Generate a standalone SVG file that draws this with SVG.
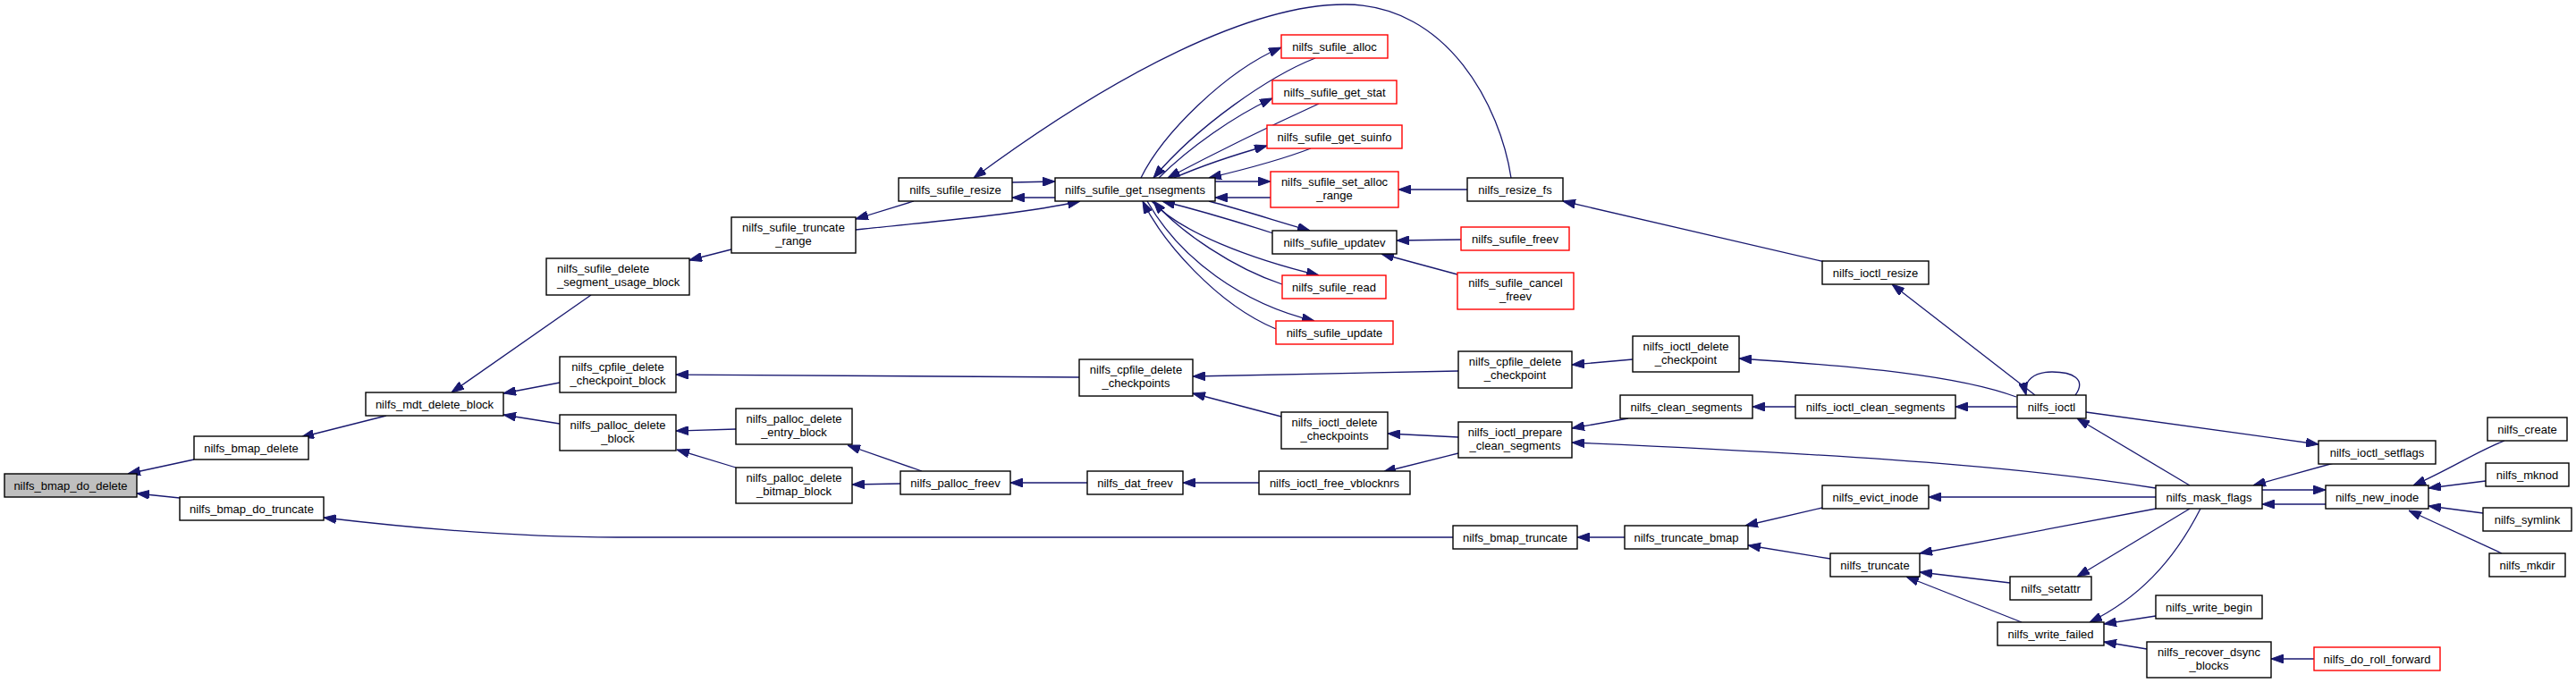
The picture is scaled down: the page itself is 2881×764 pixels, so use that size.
<svg xmlns="http://www.w3.org/2000/svg" width="2881" height="764" viewBox="0 0 2881 764">
<defs>
<style>
.node rect{fill:#ffffff;stroke:#000000;stroke-width:1.4}
.red rect{stroke:#ff0000}
.root rect{fill:#bfbfbf}
.node text{font-family:"Liberation Sans",Arial,Helvetica,sans-serif;font-size:13px;fill:#000000;text-anchor:middle}
.node text.l{text-anchor:start}
#edges path{fill:none;stroke:#191970;stroke-width:1.3;marker-end:url(#ah)}
</style>
<marker id="ah" viewBox="0 0 14 10" refX="14" refY="5" markerWidth="14" markerHeight="10" markerUnits="userSpaceOnUse" orient="auto">
<path d="M0,0 L14,5 L0,10 z" fill="#191970" stroke="#191970" stroke-width="1"/>
</marker>
</defs>
<rect x="0" y="0" width="2881" height="764" fill="#ffffff"/>
<g id="edges">
<path d="M217,514 L143,530"/>
<path d="M201,557 L153,552"/>
<path d="M432,465 L337,489"/>
<path d="M1625,601 L690,601 C600,601 480,593 362,579"/>
<path d="M661,330 L505,439"/>
<path d="M626,428 L563,440"/>
<path d="M626,474 L563,464"/>
<path d="M818,279 L771,291"/>
<path d="M1022,225 L957,245"/>
<path d="M957,257 C1050,247 1140,240 1208,225"/>
<path d="M1132,204 L1180,203"/>
<path d="M1180,221 L1132,221"/>
<path d="M1690,199 C1678,120 1620,5 1504,5 C1400,5 1250,80 1089,199"/>
<path d="M1276,199 C1300,150 1370,80 1433,53"/>
<path d="M1471,65 C1420,85 1340,140 1290,199"/>
<path d="M1296,199 C1330,165 1380,130 1423,110"/>
<path d="M1475,116 C1440,132 1380,160 1306,199"/>
<path d="M1313,199 C1345,185 1385,172 1417,163"/>
<path d="M1466,166 C1430,180 1390,190 1352,199"/>
<path d="M1359,203 L1421,203"/>
<path d="M1421,221 L1359,221"/>
<path d="M1352,225 C1390,235 1430,248 1465,258"/>
<path d="M1424,261 C1390,250 1340,235 1300,225"/>
<path d="M1288,225 C1320,260 1400,290 1475,308"/>
<path d="M1434,318 C1380,300 1320,260 1290,225"/>
<path d="M1283,225 C1320,290 1390,340 1470,359"/>
<path d="M1427,368 C1360,340 1300,270 1278,225"/>
<path d="M1641,212 L1564,212"/>
<path d="M1634,268 L1562,269"/>
<path d="M1630,307 L1545,284"/>
<path d="M2041,293 L1748,225"/>
<path d="M2276,442 L2116,318"/>
<path d="M2321,442 C2334,424 2318,416 2295,416 C2275,416 2262,426 2266,442"/>
<path d="M2255,444 C2190,420 2080,410 1945,401"/>
<path d="M1826,402 L1758,408"/>
<path d="M1631,415 L1334,421"/>
<path d="M1433,466 L1334,440"/>
<path d="M1207,422 L756,419"/>
<path d="M823,480 L756,482"/>
<path d="M823,523 L757,503"/>
<path d="M1031,527 L948,498"/>
<path d="M1007,541 L953,542"/>
<path d="M1216,540 L1130,540"/>
<path d="M1408,540 L1323,540"/>
<path d="M1631,489 L1552,485"/>
<path d="M1631,507 L1547,528"/>
<path d="M1821,468 L1758,479"/>
<path d="M2411,546 C2300,528 2150,512 1758,495"/>
<path d="M2008,455 L1960,455"/>
<path d="M2256,455 L2187,455"/>
<path d="M2333,461 L2593,497"/>
<path d="M2449,543 L2323,468"/>
<path d="M2411,556 L2157,556"/>
<path d="M2411,569 L2147,619"/>
<path d="M2449,569 L2323,645"/>
<path d="M2461,569 C2430,630 2390,670 2337,696"/>
<path d="M2248,652 L2147,640"/>
<path d="M2261,696 L2132,645"/>
<path d="M2411,689 L2353,698"/>
<path d="M2401,726 L2353,718"/>
<path d="M2588,737 L2540,737"/>
<path d="M2610,518 L2520,543"/>
<path d="M2530,548 L2601,548"/>
<path d="M2601,564 L2530,564"/>
<path d="M2801,493 C2770,505 2740,525 2699,543"/>
<path d="M2780,538 L2716,546"/>
<path d="M2777,574 L2716,566"/>
<path d="M2798,619 L2694,571"/>
<path d="M2038,568 L1952,588"/>
<path d="M2047,625 L1955,610"/>
<path d="M1817,601 L1764,601"/>
</g>
<g id="n1" class="node root"><rect x="5" y="530" width="148" height="26"/><text x="79" y="547.5">nilfs_bmap_do_delete</text></g>
<g id="n2" class="node"><rect x="217" y="488" width="128" height="26"/><text x="281" y="505.5">nilfs_bmap_delete</text></g>
<g id="n3" class="node"><rect x="201" y="556" width="161" height="26"/><text x="281.5" y="573.5">nilfs_bmap_do_truncate</text></g>
<g id="n4" class="node"><rect x="409" y="439" width="154" height="26"/><text x="486" y="456.5">nilfs_mdt_delete_block</text></g>
<g id="n5" class="node"><rect x="611" y="289" width="160" height="41"/><text class="l" x="623" y="305">nilfs_sufile_delete</text><text class="l" x="623" y="320">_segment_usage_block</text></g>
<g id="n6" class="node"><rect x="626" y="399" width="130" height="40"/><text x="691" y="415">nilfs_cpfile_delete</text><text x="691" y="430">_checkpoint_block</text></g>
<g id="n7" class="node"><rect x="626" y="464" width="130" height="40"/><text x="691" y="480">nilfs_palloc_delete</text><text x="691" y="495">_block</text></g>
<g id="n8" class="node"><rect x="818" y="243" width="139" height="40"/><text x="887.5" y="259">nilfs_sufile_truncate</text><text x="887.5" y="274">_range</text></g>
<g id="n9" class="node"><rect x="823" y="457" width="130" height="40"/><text x="888" y="473">nilfs_palloc_delete</text><text x="888" y="488">_entry_block</text></g>
<g id="n10" class="node"><rect x="823" y="523" width="130" height="40"/><text x="888" y="539">nilfs_palloc_delete</text><text x="888" y="554">_bitmap_block</text></g>
<g id="n11" class="node"><rect x="1005" y="199" width="127" height="26"/><text x="1068.5" y="216.5">nilfs_sufile_resize</text></g>
<g id="n12" class="node"><rect x="1007" y="527" width="123" height="26"/><text x="1068.5" y="544.5">nilfs_palloc_freev</text></g>
<g id="n13" class="node"><rect x="1180" y="199" width="179" height="26"/><text x="1269.5" y="216.5">nilfs_sufile_get_nsegments</text></g>
<g id="n14" class="node"><rect x="1207" y="402" width="127" height="41"/><text x="1270.5" y="418">nilfs_cpfile_delete</text><text x="1270.5" y="433">_checkpoints</text></g>
<g id="n15" class="node"><rect x="1216" y="527" width="107" height="26"/><text x="1269.5" y="544.5">nilfs_dat_freev</text></g>
<g id="n16" class="node"><rect x="1433" y="461" width="119" height="41"/><text x="1492.5" y="477">nilfs_ioctl_delete</text><text x="1492.5" y="492">_checkpoints</text></g>
<g id="n17" class="node"><rect x="1408" y="527" width="169" height="26"/><text x="1492.5" y="544.5">nilfs_ioctl_free_vblocknrs</text></g>
<g id="n18" class="node red"><rect x="1433" y="39" width="119" height="26"/><text x="1492.5" y="56.5">nilfs_sufile_alloc</text></g>
<g id="n19" class="node red"><rect x="1423" y="90" width="139" height="26"/><text x="1492.5" y="107.5">nilfs_sufile_get_stat</text></g>
<g id="n20" class="node red"><rect x="1417" y="140" width="151" height="26"/><text x="1492.5" y="157.5">nilfs_sufile_get_suinfo</text></g>
<g id="n21" class="node red"><rect x="1421" y="192" width="143" height="40"/><text x="1492.5" y="208">nilfs_sufile_set_alloc</text><text x="1492.5" y="223">_range</text></g>
<g id="n22" class="node"><rect x="1423" y="258" width="139" height="26"/><text x="1492.5" y="275.5">nilfs_sufile_updatev</text></g>
<g id="n23" class="node red"><rect x="1434" y="308" width="116" height="26"/><text x="1492" y="325.5">nilfs_sufile_read</text></g>
<g id="n24" class="node red"><rect x="1427" y="359" width="131" height="26"/><text x="1492.5" y="376.5">nilfs_sufile_update</text></g>
<g id="n25" class="node"><rect x="1625" y="588" width="139" height="26"/><text x="1694.5" y="605.5">nilfs_bmap_truncate</text></g>
<g id="n26" class="node"><rect x="1641" y="199" width="107" height="26"/><text x="1694.5" y="216.5">nilfs_resize_fs</text></g>
<g id="n27" class="node red"><rect x="1634" y="254" width="121" height="26"/><text x="1694.5" y="271.5">nilfs_sufile_freev</text></g>
<g id="n28" class="node red"><rect x="1630" y="305" width="130" height="41"/><text x="1695" y="321">nilfs_sufile_cancel</text><text x="1695" y="336">_freev</text></g>
<g id="n29" class="node"><rect x="1631" y="393" width="127" height="41"/><text x="1694.5" y="409">nilfs_cpfile_delete</text><text x="1694.5" y="424">_checkpoint</text></g>
<g id="n30" class="node"><rect x="1631" y="472" width="127" height="40"/><text x="1694.5" y="488">nilfs_ioctl_prepare</text><text x="1694.5" y="503">_clean_segments</text></g>
<g id="n31" class="node"><rect x="1826" y="376" width="119" height="40"/><text x="1885.5" y="392">nilfs_ioctl_delete</text><text x="1885.5" y="407">_checkpoint</text></g>
<g id="n32" class="node"><rect x="1812" y="442" width="148" height="26"/><text x="1886" y="459.5">nilfs_clean_segments</text></g>
<g id="n33" class="node"><rect x="1817" y="588" width="138" height="26"/><text x="1886" y="605.5">nilfs_truncate_bmap</text></g>
<g id="n34" class="node"><rect x="2038" y="292" width="119" height="26"/><text x="2097.5" y="309.5">nilfs_ioctl_resize</text></g>
<g id="n35" class="node"><rect x="2008" y="442" width="179" height="26"/><text x="2097.5" y="459.5">nilfs_ioctl_clean_segments</text></g>
<g id="n36" class="node"><rect x="2038" y="543" width="119" height="26"/><text x="2097.5" y="560.5">nilfs_evict_inode</text></g>
<g id="n37" class="node"><rect x="2047" y="619" width="100" height="26"/><text x="2097" y="636.5">nilfs_truncate</text></g>
<g id="n38" class="node"><rect x="2256" y="442" width="77" height="26"/><text x="2294.5" y="459.5">nilfs_ioctl</text></g>
<g id="n39" class="node"><rect x="2248" y="645" width="91" height="26"/><text x="2293.5" y="662.5">nilfs_setattr</text></g>
<g id="n40" class="node"><rect x="2234" y="696" width="119" height="26"/><text x="2293.5" y="713.5">nilfs_write_failed</text></g>
<g id="n41" class="node"><rect x="2411" y="543" width="119" height="26"/><text x="2470.5" y="560.5">nilfs_mask_flags</text></g>
<g id="n42" class="node"><rect x="2411" y="666" width="119" height="26"/><text x="2470.5" y="683.5">nilfs_write_begin</text></g>
<g id="n43" class="node"><rect x="2401" y="718" width="139" height="40"/><text x="2470.5" y="734">nilfs_recover_dsync</text><text x="2470.5" y="749">_blocks</text></g>
<g id="n44" class="node"><rect x="2593" y="493" width="131" height="26"/><text x="2658.5" y="510.5">nilfs_ioctl_setflags</text></g>
<g id="n45" class="node"><rect x="2601" y="543" width="115" height="26"/><text x="2658.5" y="560.5">nilfs_new_inode</text></g>
<g id="n46" class="node red"><rect x="2588" y="724" width="141" height="26"/><text x="2658.5" y="741.5">nilfs_do_roll_forward</text></g>
<g id="n47" class="node"><rect x="2782" y="467" width="89" height="26"/><text x="2826.5" y="484.5">nilfs_create</text></g>
<g id="n48" class="node"><rect x="2780" y="518" width="93" height="26"/><text x="2826.5" y="535.5">nilfs_mknod</text></g>
<g id="n49" class="node"><rect x="2777" y="568" width="99" height="26"/><text x="2826.5" y="585.5">nilfs_symlink</text></g>
<g id="n50" class="node"><rect x="2784" y="619" width="85" height="26"/><text x="2826.5" y="636.5">nilfs_mkdir</text></g>
</svg>
